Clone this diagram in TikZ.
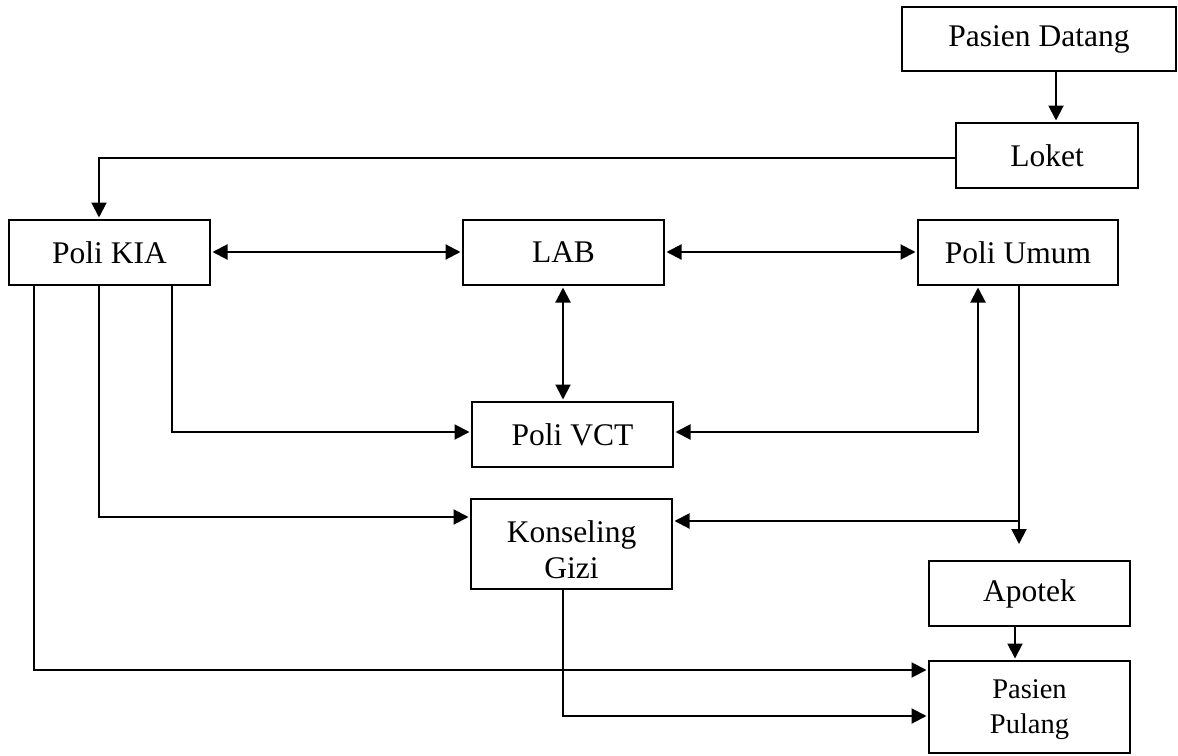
\documentclass[tikz,border=0pt]{standalone}
\usepackage{fontspec}
\setmainfont{Liberation Serif}
\usetikzlibrary{arrows.meta}
\tikzset{
  box/.style={draw, line width=2pt, inner sep=0pt, align=center,
    font=\fontsize{31.5}{36}\selectfont},
  lbl/.style={inner sep=0pt, align=center},
  big/.style={font=\fontsize{31.5}{36}\selectfont},
  small/.style={font=\fontsize{28.5}{35}\selectfont},
  tip/.tip={Triangle[length=15pt,width=15pt]},
  arr/.style={line width=2pt, -tip, shorten >=1.5pt},
  darr/.style={line width=2pt, tip-tip, shorten >=1.5pt, shorten <=1.5pt}
}
\begin{document}
\begin{tikzpicture}[x=1pt, y=-1pt]
\useasboundingbox (0,0) rectangle (1178,755);

% boxes
\node[box, minimum width=274pt, minimum height=64pt] (pd) at (1039,39) {Pasien Datang};
\node[box, minimum width=182pt, minimum height=65pt] (lok) at (1047,155.5) {Loket};
\node[box, minimum width=201pt, minimum height=65pt] (kia) at (109.5,252.5) {Poli KIA};
\node[box, minimum width=201pt, minimum height=65pt] (lab) at (563.5,252.5) {LAB};
\node[box, minimum width=200pt, minimum height=65pt] (umum) at (1018,252.5) {Poli Umum};
\node[box, minimum width=201pt, minimum height=65pt] (vct) at (572.5,434.5) {Poli VCT};
\node[box, minimum width=201pt, minimum height=90pt] (gizi) at (571.5,544) {};
\node[lbl, big] (gizi-t) at (571.5,550) {Konseling\\Gizi};
\node[box, minimum width=201pt, minimum height=65pt] (apotek) at (1029.5,593.5) {Apotek};
\node[box, minimum width=201pt, minimum height=92pt] (pulang) at (1029.5,707) {};
\node[lbl, small] (pulang-t) at (1029.5,710) {Pasien\\Pulang};

% free ends of the pharmacy branch
\coordinate (ua) at (1019,544);
\coordinate (ug) at (1019,521);

% connectors
\draw[arr] ([xshift=17pt]pd.south) -- ([xshift=9pt]lok.north);
\draw[arr] ([yshift=-2.5pt]lok.west) -| ([xshift=-10.5pt]kia.north);
\draw[darr] ([yshift=0.5pt]kia.east) -- ([yshift=0.5pt]lab.west);
\draw[darr] ([yshift=0.5pt]lab.east) -- ([yshift=0.5pt]umum.west);
\draw[darr] ([xshift=-0.5pt]lab.south) -- ([xshift=-0.5pt]lab.south |- vct.north);
\draw[arr] ([xshift=62.5pt]kia.south) |- ([yshift=2.5pt]vct.west);
\draw[arr] ([xshift=-10.5pt]kia.south) |- ([yshift=27pt]gizi.west);
\draw[arr] ([xshift=-75.5pt]kia.south) |- ([yshift=37pt]pulang.west);
\draw[arr] ([xshift=-8.5pt]gizi.south) |- ([yshift=-9pt]pulang.west);
\draw[darr] ([xshift=-40pt]umum.south) |- ([yshift=2.5pt]vct.east);
\draw[arr, shorten >=0pt] (umum.south -| ua) -- (ua);
\draw[arr] (ug) -- (gizi.east |- ug);
\draw[arr] ([xshift=-14.5pt]apotek.south) -- ([xshift=-14.5pt]pulang.north);
\end{tikzpicture}
\end{document}
